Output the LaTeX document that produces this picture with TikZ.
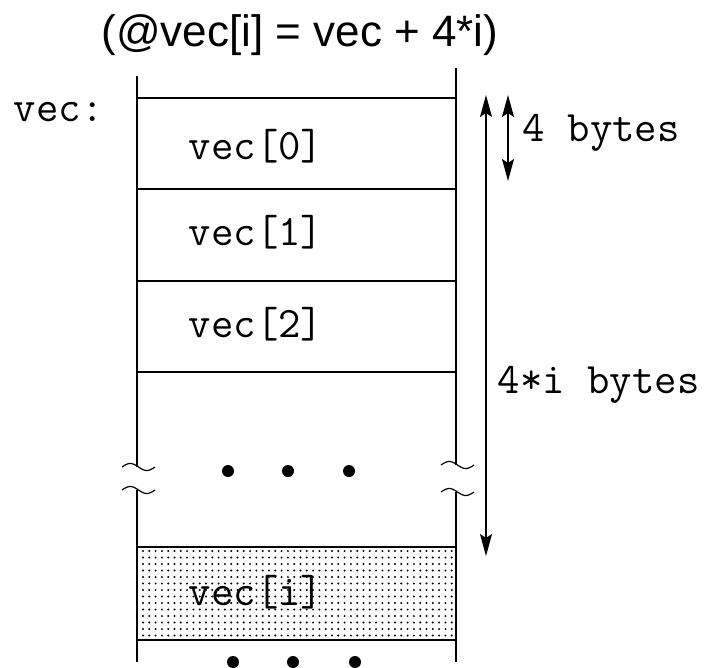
\documentclass[tikz,border=0pt]{standalone}
\usepackage{fontspec}
\setmainfont{Liberation Sans}
\usetikzlibrary{arrows.meta}
\begin{document}
\begin{tikzpicture}[x=1pt,y=-1pt,line width=1.6pt,
  mono/.style={font=\ttfamily\fontsize{43.5}{46}\selectfont, inner sep=0pt, anchor=west},
  sans/.style={font=\fontsize{44}{48}\selectfont, inner sep=0pt},
  dimarrow/.style={{Stealth[length=22,width=12,inset=4]}-{Stealth[length=22,width=12,inset=4]}},
  bigdot/.style={fill=black, draw=none}]
\useasboundingbox (0,0) rectangle (708,667);
% dotted shading
\foreach \i in {0,...,49} {
  \foreach \j in {0,...,13} {
    \fill ({143+6.3*\i},{551+6.5*\j}) circle (1.1);
  }
}
% verticals
\draw (137,76) -- (137,467);
\draw (137,490) -- (137,662);
\draw (456,68) -- (456,465);
\draw (456,492) -- (456,662);
% squiggles
\foreach \yy in {467,490} {
  \draw[line width=1.2pt] plot[domain=0:1,samples=25,smooth] ({122+33*\x},{\yy-3.5*sin(360*\x)});
}
\foreach \yy in {465,492} {
  \draw[line width=1.2pt] plot[domain=0:1,samples=25,smooth] ({441+33*\x},{\yy-3.5*sin(360*\x)});
}
% horizontals
\foreach \yy in {98,189,281,372,547,640} {
  \draw (137,\yy) -- (456,\yy);
}
% texts
\node[sans] (title) at (300,35) {(@vec[i] = vec + 4*i)};
\node[mono] (lab) at (13,112) {vec:};
\node[mono] (v0) at (188,146) {vec[0]};
\node[mono] (v1) at (188,232) {vec[1]};
\node[mono] (v2) at (188,324) {vec[2]};
\node[mono] (vi) at (188,592) {vec[i]};
\node[mono] (fb) at (522,133) {4 bytes};
\node[mono] (ib) at (497,385) {4*i bytes};
% dots
\foreach \xx in {228,288,349} \fill[bigdot] (\xx,471) circle (6);
\foreach \xx in {233,293,355} \fill[bigdot] (\xx,662) circle (6);
% arrows
\coordinate (a1) at (486,95);
\coordinate (a2) at (486,556);
\coordinate (b1) at (508,95);
\coordinate (b2) at (508,181);
\draw[dimarrow] (a1) -- (a2);
\draw[dimarrow] (b1) -- (b2);
\end{tikzpicture}
\end{document}
